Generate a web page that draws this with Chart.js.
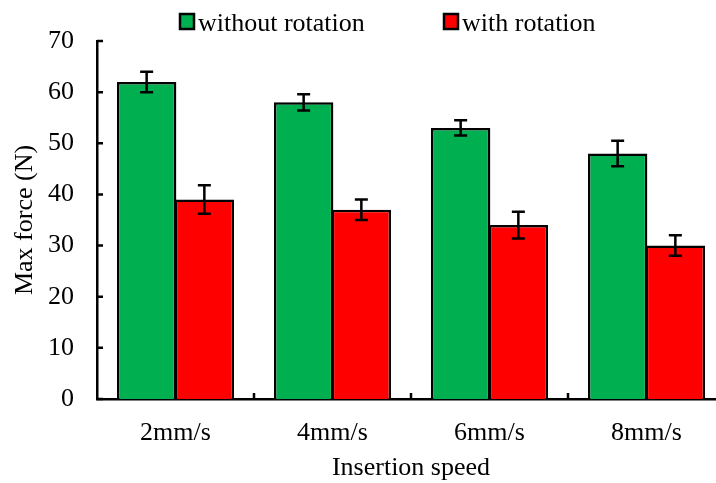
<!DOCTYPE html>
<html>
<head>
<meta charset="utf-8">
<script src="https://cdn.jsdelivr.net/npm/chart.js@4/dist/chart.umd.min.js"></script>
<style>
  html, body { margin: 0; padding: 0; background: #fff; overflow: hidden; }
  #wrap { width: 716px; height: 483px; overflow: hidden; position: relative; }
  canvas { display: block; }
</style>
</head>
<body>
<div id="wrap"><canvas id="c" width="740" height="483"></canvas></div>
<script>
// Insertion speeds on the x axis
const categories = ['2mm/s', '4mm/s', '6mm/s', '8mm/s'];
// Mean max force (N) and its error (±) for each series
const withoutRotation = [62, 58, 53, 48];
const withoutRotationErr = [2, 1.6, 1.5, 2.5];
const withRotation = [39, 37, 34, 30];
const withRotationErr = [2.8, 2, 2.6, 2];
// Force axis range
const yMin = 0, yMax = 70, yStep = 10;

const FONT = "'Liberation Serif', 'Times New Roman', serif";
Chart.defaults.font.family = FONT;
Chart.defaults.font.size = 26;
Chart.defaults.color = '#000';

const errors = [withoutRotationErr, withRotationErr];

// Error bars with caps, plus inward tick marks on both axes
const extras = {
  id: 'extras',
  afterDatasetsDraw(chart) {
    const ctx = chart.ctx;
    const y = chart.scales.y;
    ctx.save();
    ctx.strokeStyle = '#000';
    ctx.lineWidth = 2.5;
    chart.data.datasets.forEach((ds, di) => {
      const meta = chart.getDatasetMeta(di);
      meta.data.forEach((bar, i) => {
        const v = ds.data[i], e = errors[di][i];
        const yt = y.getPixelForValue(v + e);
        const yb = y.getPixelForValue(v - e);
        const x = bar.x;
        ctx.beginPath();
        ctx.moveTo(x, yt); ctx.lineTo(x, yb);
        ctx.moveTo(x - 6.5, yt); ctx.lineTo(x + 6.5, yt);
        ctx.moveTo(x - 6.5, yb); ctx.lineTo(x + 6.5, yb);
        ctx.stroke();
      });
    });
    ctx.restore();
  },
  afterDraw(chart) {
    const ctx = chart.ctx;
    const {x, y} = chart.scales;
    const area = chart.chartArea;
    ctx.save();
    ctx.strokeStyle = '#000';
    ctx.lineWidth = 2.5;
    ctx.beginPath();
    for (let v = yMin; v <= yMax; v += yStep) {
      const py = y.getPixelForValue(v);
      ctx.moveTo(area.left, py); ctx.lineTo(area.left + 6, py);
    }
    const n = categories.length;
    for (let i = 1; i <= n; i++) {
      const px = area.left + (area.right - area.left) * i / n;
      ctx.moveTo(px, area.bottom); ctx.lineTo(px, area.bottom - 6);
    }
    ctx.stroke();

    // Legend
    const items = [
      {ds: chart.data.datasets[0], box: 180, text: 198},
      {ds: chart.data.datasets[1], box: 444, text: 462}
    ];
    ctx.font = '26px ' + FONT;
    ctx.textBaseline = 'alphabetic';
    ctx.textAlign = 'left';
    items.forEach(it => {
      ctx.fillStyle = it.ds.backgroundColor;
      ctx.fillRect(it.box, 14, 14, 15);
      ctx.lineWidth = 2.5;
      ctx.strokeRect(it.box, 14, 14, 15);
      ctx.fillStyle = '#000';
      ctx.fillText(it.ds.label, it.text, 31);
    });
    ctx.restore();
  }
};

new Chart(document.getElementById('c'), {
  type: 'bar',
  data: {
    labels: categories,
    datasets: [
      {
        label: 'without rotation',
        data: withoutRotation,
        backgroundColor: '#00B050',
        borderColor: '#000',
        borderWidth: 2.5
      },
      {
        label: 'with rotation',
        data: withRotation,
        backgroundColor: '#FF0000',
        borderColor: '#000',
        borderWidth: 2.5
      }
    ]
  },
  options: {
    responsive: false,
    animation: false,
    events: [],
    layout: { padding: { top: 41, right: 15, left: 0, bottom: 0 } },
    datasets: { bar: { categoryPercentage: 0.735, barPercentage: 1.03 } },
    plugins: {
      legend: { display: false },
      tooltip: { enabled: false }
    },
    scales: {
      x: {
        grid: { display: false },
        border: { display: true, color: '#000', width: 2.5 },
        ticks: { padding: 11, font: { size: 26 } },
        title: { display: true, text: 'Insertion speed', font: { size: 26 }, padding: { top: 0, bottom: -1 } },
        afterFit(scale) { scale.height = 84; }
      },
      y: {
        min: yMin,
        max: yMax,
        grid: { display: false },
        border: { display: true, color: '#000', width: 2.5 },
        ticks: { stepSize: yStep, padding: 15, font: { size: 26 } },
        title: { display: true, text: 'Max force (N)', font: { size: 26 }, padding: { top: 10, bottom: 0 } },
        afterFit(scale) { scale.width = 97; }
      }
    }
  },
  plugins: [extras]
});
</script>
</body>
</html>
